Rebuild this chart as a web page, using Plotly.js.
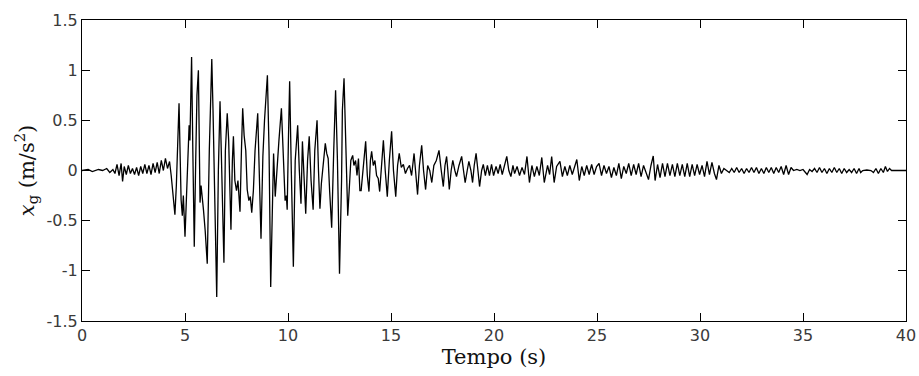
<!DOCTYPE html>
<html>
<head>
<meta charset="utf-8">
<script src="https://cdn.plot.ly/plotly-3.0.1.min.js"></script>
<style>html,body{margin:0;padding:0;background:#fff;}#chart{width:919px;height:376px;}</style>
</head>
<body>
<div id="chart"></div>
<script>
// Time (s) of each sample
var time = [
0.0,0.3,0.5,0.8,1.0,1.2,1.35,1.5,1.6,1.7,1.8,1.9,1.97,2.05,2.15,2.25,2.35,2.45,2.55,2.65,2.75,2.85,2.95,3.05,3.15,3.25,3.35,3.45,3.55,3.65,3.75,3.85,3.95,4.05,4.15,4.25,4.33,
4.42,4.51,4.58,4.66,4.71,4.77,4.81,4.87,4.92,5.0,5.08,5.13,5.2,5.24,5.32,5.38,5.45,5.52,5.58,5.65,5.73,5.78,5.84,5.9,5.98,6.08,6.18,6.30,6.36,6.45,6.54,6.62,6.70,6.76,6.89,6.96,
7.05,7.12,7.16,7.23,7.30,7.35,7.42,7.50,7.57,7.67,7.74,7.80,7.87,7.95,8.02,8.10,8.17,8.24,8.32,8.40,8.53,8.60,8.69,8.78,8.86,9.0,9.08,9.16,9.26,9.30,9.38,9.48,9.56,9.68,9.76,9.86,9.92,9.96,
10.02,10.08,10.16,10.26,10.35,10.47,10.55,10.63,10.70,10.78,10.86,10.95,11.03,11.12,11.22,11.30,11.41,11.48,11.55,11.62,11.72,11.81,11.88,11.95,12.02,12.12,12.22,12.31,12.40,12.50,12.60,12.64,12.72,12.80,12.90,12.97,
13.05,13.14,13.20,13.28,13.35,13.42,13.49,13.55,13.65,13.77,13.85,13.93,14.00,14.06,14.14,14.22,14.30,14.38,14.45,14.55,14.63,14.72,14.82,14.92,15.03,15.12,15.23,15.32,15.40,15.50,15.60,15.70,15.80,15.90,16.00,
16.12,16.20,16.29,16.38,16.49,16.58,16.68,16.78,16.88,16.98,17.08,17.20,17.33,17.44,17.54,17.62,17.70,17.76,17.83,17.92,18.00,18.10,18.18,18.30,18.43,18.52,18.60,18.70,18.78,18.88,18.96,
19.04,19.13,19.22,19.30,19.40,19.48,19.58,19.68,19.78,19.88,19.98,20.1,20.2,20.3,20.4,20.52,20.62,20.72,20.82,20.92,21.0,
21.12,21.24,21.36,21.48,21.6,21.72,21.84,21.96,22.08,22.2,22.32,22.44,22.6,22.7,22.8,22.92,23.04,23.2,23.32,23.44,23.56,23.68,23.8,23.92,24.02,24.14,24.26,24.38,24.5,24.62,24.74,24.86,24.98,
25.1,25.22,25.34,25.46,25.58,25.7,25.82,25.94,26.06,26.18,26.3,26.42,26.54,26.66,26.78,26.9,27.02,27.14,27.26,27.38,27.5,27.62,27.73,27.82,27.94,28.06,28.18,28.3,28.42,28.54,28.66,28.78,28.9,
29.02,29.14,29.26,29.38,29.5,29.62,29.74,29.86,29.98,30.1,30.22,30.34,30.46,30.58,30.7,30.8,30.92,31.04,31.16,31.3,31.42,31.54,31.66,31.78,31.9,32.02,32.14,32.26,32.38,32.5,32.62,32.74,32.86,32.98,
33.1,33.22,33.34,33.46,33.58,33.7,33.82,33.94,34.06,34.18,34.3,34.42,34.54,34.7,34.85,35.0,35.1,35.2,35.32,35.44,35.56,35.68,35.8,35.92,36.04,36.16,36.28,36.4,36.52,36.64,36.76,36.88,37.0,
37.12,37.24,37.36,37.48,37.6,37.72,37.8,37.9,38.1,38.3,38.42,38.54,38.66,38.78,38.9,39.0,39.1,39.2,39.3,39.6,40.0
];
// Ground acceleration x_g (m/s^2)
var accel = [
0,0.01,-0.01,0.01,0,0.02,-0.02,0.01,-0.03,0.06,-0.05,0.07,-0.11,0.04,-0.04,0.05,-0.03,0.02,-0.04,0.03,-0.05,0.04,-0.03,0.06,-0.03,0.05,-0.04,0.07,-0.02,0.08,-0.03,0.1,0.0,0.12,0.02,0.09,-0.05,
-0.25,-0.44,-0.15,0.3,0.67,0.1,-0.29,-0.45,-0.25,-0.66,-0.2,-0.04,0.45,0.3,1.13,0.2,-0.76,0.1,0.75,1.0,-0.32,-0.15,-0.25,-0.4,-0.6,-0.93,0.2,1.11,0.6,-0.5,-1.26,0.0,0.69,0.2,-0.92,0.2,
0.57,0.3,-0.1,-0.59,0.1,0.34,-0.1,-0.2,-0.1,-0.41,0.2,0.62,0.35,0.2,-0.19,-0.3,-0.26,-0.42,-0.2,0.2,0.57,0.1,-0.68,0.14,0.5,0.95,0.2,-1.16,0.1,0.17,-0.26,0.0,0.3,0.62,0.2,-0.3,-0.25,-0.39,
0.3,0.89,0.0,-0.96,0.1,0.45,0.0,-0.33,0.29,-0.1,-0.43,0.1,0.34,-0.1,-0.39,0.2,0.5,0.0,-0.38,-0.13,0.1,0.27,0.17,0.12,-0.2,-0.57,0.2,0.80,0.1,-1.03,-0.1,0.6,0.92,0.2,-0.45,-0.2,
0.1,0.15,0.05,0.1,-0.05,0.12,-0.2,-0.2,0.05,0.29,-0.05,-0.21,0.1,0.19,0.05,0.1,-0.05,-0.08,-0.21,0.1,0.30,0.0,-0.26,0.1,0.39,0.0,-0.26,0.05,0.17,0.03,0.06,-0.03,0.02,0.05,-0.05,
0.17,0.0,-0.24,0.05,0.25,0.0,-0.19,0.05,0.0,-0.12,0.05,0.1,0.20,0.0,-0.16,0.05,0.14,0.0,-0.19,0.0,0.10,0.0,-0.06,0.05,0.14,0.0,-0.12,0.0,0.09,0.0,-0.12,
0.05,0.17,0.0,-0.16,0.0,0.06,-0.05,0.05,-0.05,0.06,-0.05,0.04,-0.03,0.06,-0.04,0.05,0.14,0.0,-0.06,0.05,-0.03,
0.04,-0.05,0.03,-0.04,0.14,-0.12,0.05,-0.06,0.04,-0.05,0.13,-0.12,0.05,-0.04,0.14,-0.12,0.04,0.09,-0.06,0.04,-0.05,0.05,-0.04,0.03,0.11,-0.1,0.04,-0.05,0.05,-0.04,0.06,-0.04,0.04,
0.07,-0.05,0.05,-0.03,0.04,-0.07,0.03,-0.05,0.07,-0.08,0.04,-0.03,0.07,-0.05,0.06,-0.04,0.07,-0.06,0.05,-0.03,-0.09,0.05,0.145,-0.1,0.06,-0.07,0.07,-0.06,0.07,-0.05,0.06,-0.06,0.07,
-0.05,0.06,-0.06,0.07,-0.06,0.06,-0.05,0.06,-0.04,0.05,-0.06,0.09,-0.04,0.08,-0.03,-0.09,0.05,-0.03,0.02,0.0,-0.02,0.02,-0.02,0.03,-0.02,0.02,-0.03,0.02,-0.02,0.03,-0.02,0.03,-0.03,0.02,
-0.03,0.03,-0.02,0.03,-0.03,0.03,-0.02,0.04,-0.04,0.05,-0.04,0.03,0.0,0.01,0.0,0.01,-0.01,-0.04,0.01,-0.01,0.02,-0.02,0.03,-0.02,0.02,-0.03,0.02,-0.02,0.03,-0.02,0.02,-0.03,0.02,
-0.02,0.01,-0.02,0.02,-0.03,0.02,-0.02,0.0,0.005,0.0,-0.02,0.02,-0.03,0.02,-0.02,0.04,-0.01,0.02,0.0,0.0,0.0
];
var xTickVals = [0,5,10,15,20,25,30,35,40];
var xTickText = ['0','5','10','15','20','25','30','35','40'];
var yTickVals = [-1.5,-1,-0.5,0,0.5,1,1.5];
var yTickText = ['-1.5','-1','-0.5','0','0.5','1','1.5'];

var trace = {
  x: time, y: accel, type: 'scatter', mode: 'lines',
  line: {color: '#000000', width: 1.3}, hoverinfo: 'skip'
};
var tickFont = {family: 'DejaVu Sans, sans-serif', size: 16, color: '#3a3a3a'};
var layout = {
  width: 919, height: 376,
  margin: {l: 82, r: 13, t: 20, b: 55},
  paper_bgcolor: '#ffffff', plot_bgcolor: '#ffffff',
  showlegend: false,
  xaxis: {
    range: [0, 40], tickvals: xTickVals, ticktext: xTickText,
    ticks: 'inside', ticklen: 8, tickwidth: 1, tickcolor: '#000',
    showline: true, linecolor: '#000', linewidth: 1, mirror: 'ticks',
    showgrid: false, zeroline: false, tickfont: tickFont,
    title: {text: 'Tempo (s)', font: {family: 'DejaVu Serif, serif', size: 21, color: '#111'}, standoff: 4}
  },
  yaxis: {
    range: [-1.5, 1.5], tickvals: yTickVals, ticktext: yTickText,
    ticks: 'inside', ticklen: 8, tickwidth: 1, tickcolor: '#000',
    showline: true, linecolor: '#000', linewidth: 1, mirror: 'ticks',
    showgrid: false, zeroline: false, tickfont: tickFont,
    title: {text: '<i>x</i><sub>g</sub> (m/s<sup>2</sup>)', font: {family: 'DejaVu Serif, serif', size: 21, color: '#111'}, standoff: 6}
  }
};
Plotly.newPlot('chart', [trace], layout, {staticPlot: true, displayModeBar: false});
</script>
</body>
</html>
